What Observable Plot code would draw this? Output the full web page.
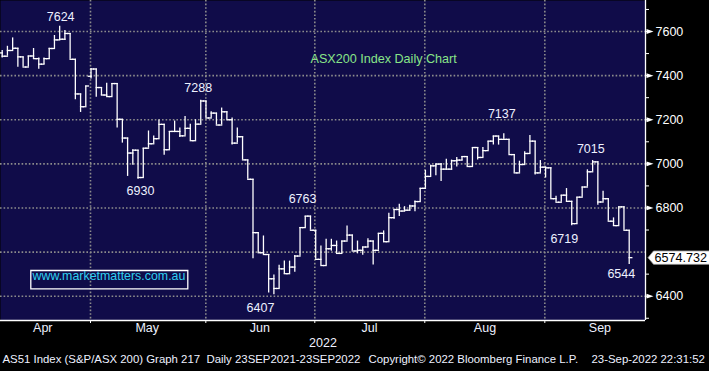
<!DOCTYPE html>
<html><head><meta charset="utf-8">
<script src="https://cdn.jsdelivr.net/npm/d3@7"></script>
<script src="https://cdn.jsdelivr.net/npm/@observablehq/plot@0.6"></script>
<style>html,body{margin:0;padding:0;background:#000;overflow:hidden}</style>
</head><body><div id="chart"></div>
<script>
// ASX200 daily OHLC, trading-day index 0..120 (late Mar 2022 .. 23 Sep 2022)
const openPx = [7503,7488,7514,7524,7485,7439,7489,7477,7452,7477,
7523,7562,7565,7591,7474,7317,7259,7397,7430,7346,
7312,7305,7364,7202,7117,7049,7062,6938,7071,7091,
7114,7179,7064,7147,7147,7127,7161,7105,7180,7285,
7208,7230,7176,7236,7200,7094,7123,7018,6930,6688,
6597,6589,6479,6435,6524,6502,6532,6582,6711,6763,
6699,6567,6539,6615,6630,6594,6650,6677,6605,6608,
6623,6650,6608,6685,6647,6756,6793,6786,6790,6809,
6829,6889,6943,6991,6999,6976,6976,7014,7017,7033,
6988,7074,7029,7060,7103,7126,7111,7111,7042,6959,
6997,7047,7103,6959,6985,6982,6842,6826,6858,6830,
6729,6849,6895,6964,7009,6827,6842,6740,6720,6805,
6699];
const highPx = [7514,7533,7571,7524,7485,7489,7523,7480,7480,7524,
7582,7624,7605,7591,7474,7317,7353,7432,7430,7346,
7365,7364,7364,7202,7117,7064,7062,7071,7149,7126,
7199,7179,7147,7194,7162,7215,7180,7200,7288,7285,
7236,7230,7253,7236,7208,7162,7123,7018,6930,6688,
6673,6589,6496,6540,6559,6559,6585,6711,6763,6763,
6699,6627,6658,6658,6650,6650,6718,6677,6650,6623,
6661,6650,6685,6696,6776,6794,6817,6806,6812,6832,
6889,6971,6994,6999,7002,7021,7017,7029,7033,7033,
7074,7074,7074,7103,7126,7126,7137,7111,7042,7012,
7055,7129,7103,7015,6985,6982,6853,6858,6888,6830,
6849,6895,6973,7015,7009,6876,6842,6755,6805,6805,
6699];
const lowPx = [7480,7488,7514,7438,7439,7439,7474,7429,7450,7474,
7523,7562,7559,7474,7291,7233,7259,7385,7302,7309,
7305,7305,7162,7094,6943,6994,6930,6938,7071,7091,
7114,7039,7064,7142,7120,7127,7105,7105,7180,7208,
7208,7176,7176,7200,7085,7094,7018,6930,6570,6597,
6589,6415,6407,6435,6499,6502,6509,6582,6711,6699,
6567,6539,6539,6604,6594,6594,6650,6605,6592,6586,
6620,6541,6608,6643,6647,6749,6761,6783,6786,6783,
6829,6889,6943,6946,6920,6976,6971,6986,7014,6988,
6988,7017,7029,7060,7085,7085,7111,7042,6959,6959,
6997,7047,6949,6959,6936,6842,6826,6826,6827,6719,
6729,6849,6895,6964,6812,6827,6740,6717,6720,6699,
6544];
const closePx = [7488,7514,7524,7485,7439,7489,7477,7452,7477,7523,
7562,7565,7591,7474,7317,7259,7353,7430,7346,7312,
7305,7364,7202,7117,7049,7062,6938,7071,7091,7114,
7179,7064,7147,7147,7127,7161,7105,7180,7285,7208,
7230,7176,7236,7200,7094,7123,7018,6930,6688,6597,
6589,6479,6435,6524,6502,6532,6582,6711,6763,6699,
6567,6539,6615,6630,6594,6650,6677,6605,6608,6623,
6650,6608,6685,6647,6756,6793,6786,6790,6809,6829,
6889,6943,6991,6999,6976,6976,7014,7017,7033,6988,
7074,7029,7060,7103,7126,7111,7111,7042,6959,6997,
7047,7103,6959,6985,6982,6842,6826,6858,6830,6729,
6849,6895,6964,7009,6827,6842,6740,6720,6805,6699,
6574.732];

// x axis: month names, their label positions and month boundaries (trading-day index)
const monthNames = ["Apr","May","Jun","Jul","Aug","Sep"];
const monthLabelPos = [7.77, 27.75, 49.3, 70.3, 92.4, 114.4];
const monthBoundary = [16.9, 38.97, 59.83, 80.88, 103.85];
const yearLabel = "2022";
const yearLabelPos = 61.4;

// y axis ticks
const yMajor = [6400, 6600, 6800, 7000, 7200, 7400, 7600];
const yMinor = [6300, 6500, 6700, 6900, 7100, 7300, 7500, 7700];

// annotated highs / lows
const labelBar = [11, 38, 26, 52, 58, 96, 113, 109, 120];
const labelValue = [7624, 7288, 6930, 6407, 6763, 7137, 7015, 6719, 6544];
const labelOffset = [[1,-9],[-2.5,-12.6],[2.4,11.3],[-13.4,12.9],[-2.7,-17.3],[-2,-19.8],[-1.8,-12],[-7.4,13],[-7.9,9.4]];

const titleText = "ASX200 Index Daily Chart";
const siteText = "www.marketmatters.com.au";
const footerParts = ["AS51 Index (S&P/ASX 200) Graph 217", "Daily 23SEP2021-23SEP2022", "Copyright\u00A9 2022 Bloomberg Finance L.P.", "23-Sep-2022 22:31:52"];
const footerDx = [2, 206, 368, 591];

const bars = closePx.map((c, i) => ({i, o: openPx[i], h: highPx[i], l: lowPx[i], c}));
const lastClose = closePx[closePx.length - 1];
// the last-price tag covers the major tick label nearest to it
const hiddenByTag = d => Math.abs(d - lastClose) < 40;
const yMajorShown = yMajor.filter(d => !hiddenByTag(d));

const NAVY = "#100c49";
const GRID = "#8c8c8c";
const TXT = "#eef1ff";
const xDomain = [-0.325, 123.12];
const yDomain = [6289.8, 7740.6];

const triSymbol = {draw(ctx) { ctx.moveTo(0, -2.4); ctx.lineTo(7, 0); ctx.lineTo(0, 2.4); ctx.closePath(); }};
const tagSymbol = {draw(ctx) { ctx.moveTo(2.5, 0); ctx.lineTo(8, -6.7); ctx.lineTo(70, -6.7); ctx.lineTo(70, 6.7); ctx.lineTo(8, 6.7); ctx.closePath(); }};
const boxSymbol = {draw(ctx) { ctx.rect(-78.5, -9.2, 157, 18.4); }};

const chart = Plot.plot({
  width: 709, height: 371,
  marginLeft: 0, marginRight: 64, marginTop: 0, marginBottom: 51,
  style: {background: "black", color: "white", fontFamily: "'Liberation Sans', Arial, sans-serif", fontSize: "12.5px"},
  x: {domain: xDomain, axis: "bottom", ticks: monthBoundary, tickSize: 3, tickFormat: () => "", label: null},
  y: {domain: yDomain, axis: "right", ticks: yMinor.concat(yMajorShown), tickSize: 3, tickPadding: 7,
      tickFormat: d => yMajorShown.includes(d) ? String(d) : "", label: null},
  marks: [
    Plot.frame({fill: NAVY, stroke: "none"}),
    Plot.ruleY(yMajor, {stroke: GRID, strokeWidth: 1.6, strokeDasharray: "1.6,2"}),
    Plot.ruleX(monthBoundary, {stroke: GRID, strokeWidth: 1.6, strokeDasharray: "1.6,2"}),
    Plot.ruleX(bars, {x: "i", y1: "l", y2: "h", stroke: "white", strokeWidth: 1.3}),
    Plot.link(bars, {x1: d => d.i - 0.5, x2: "i", y1: "o", y2: "o", stroke: "white", strokeWidth: 1.3, strokeLinecap: "square"}),
    Plot.link(bars, {x1: "i", x2: d => d.i + 0.5, y1: "c", y2: "c", stroke: "white", strokeWidth: 1.3, strokeLinecap: "square"}),
    Plot.ruleY([yDomain[0]], {stroke: "white", strokeWidth: 1.5}),
    Plot.ruleX([xDomain[1]], {stroke: "white", strokeWidth: 1.3}),
    Plot.dot(yMajorShown, {y: d => d, frameAnchor: "right", symbol: triSymbol, fill: "white", stroke: "none", dx: 1}),
    Plot.dot([lastClose], {y: d => d, frameAnchor: "right", symbol: tagSymbol, fill: "white", stroke: "#999", strokeWidth: 0.8}),
    Plot.text([lastClose], {y: d => d, frameAnchor: "right", text: d => d.toFixed(3), textAnchor: "start", dx: 9, fill: "black", fontSize: 12.6}),
    ...labelBar.map((b, k) => Plot.text([{i: b, v: labelValue[k]}], {x: "i", y: "v", text: d => String(d.v), dx: labelOffset[k][0], dy: labelOffset[k][1], fill: TXT, fontSize: 12.5})),
    Plot.text([titleText], {frameAnchor: "top-left", text: d => d, dx: 310, dy: 54, textAnchor: "start", fill: "#88e488", fontSize: 12.6}),
    Plot.dot([siteText], {frameAnchor: "bottom-left", symbol: boxSymbol, fill: "none", stroke: "white", strokeWidth: 1.3, dx: 108.8, dy: -40.8}),
    Plot.text([siteText], {frameAnchor: "bottom-left", text: d => d, dx: 32, dy: -40.6, textAnchor: "start", fill: "#2fd0f0", fontSize: 12.4}),
    Plot.text(monthNames.map((m, k) => ({m, p: monthLabelPos[k]})), {x: "p", text: "m", frameAnchor: "bottom", dy: 11, fill: TXT, fontSize: 12.5}),
    Plot.text([{t: yearLabel, p: yearLabelPos}], {x: "p", text: "t", frameAnchor: "bottom", dy: 26, fill: TXT, fontSize: 12.5}),
    ...footerParts.map((f, k) => Plot.text([f], {frameAnchor: "bottom-left", text: d => d, dx: footerDx[k], dy: 42.7, textAnchor: "start", fill: TXT, fontSize: 11.4}))
  ]
});
document.getElementById("chart").appendChild(chart);
</script>
</body></html>
